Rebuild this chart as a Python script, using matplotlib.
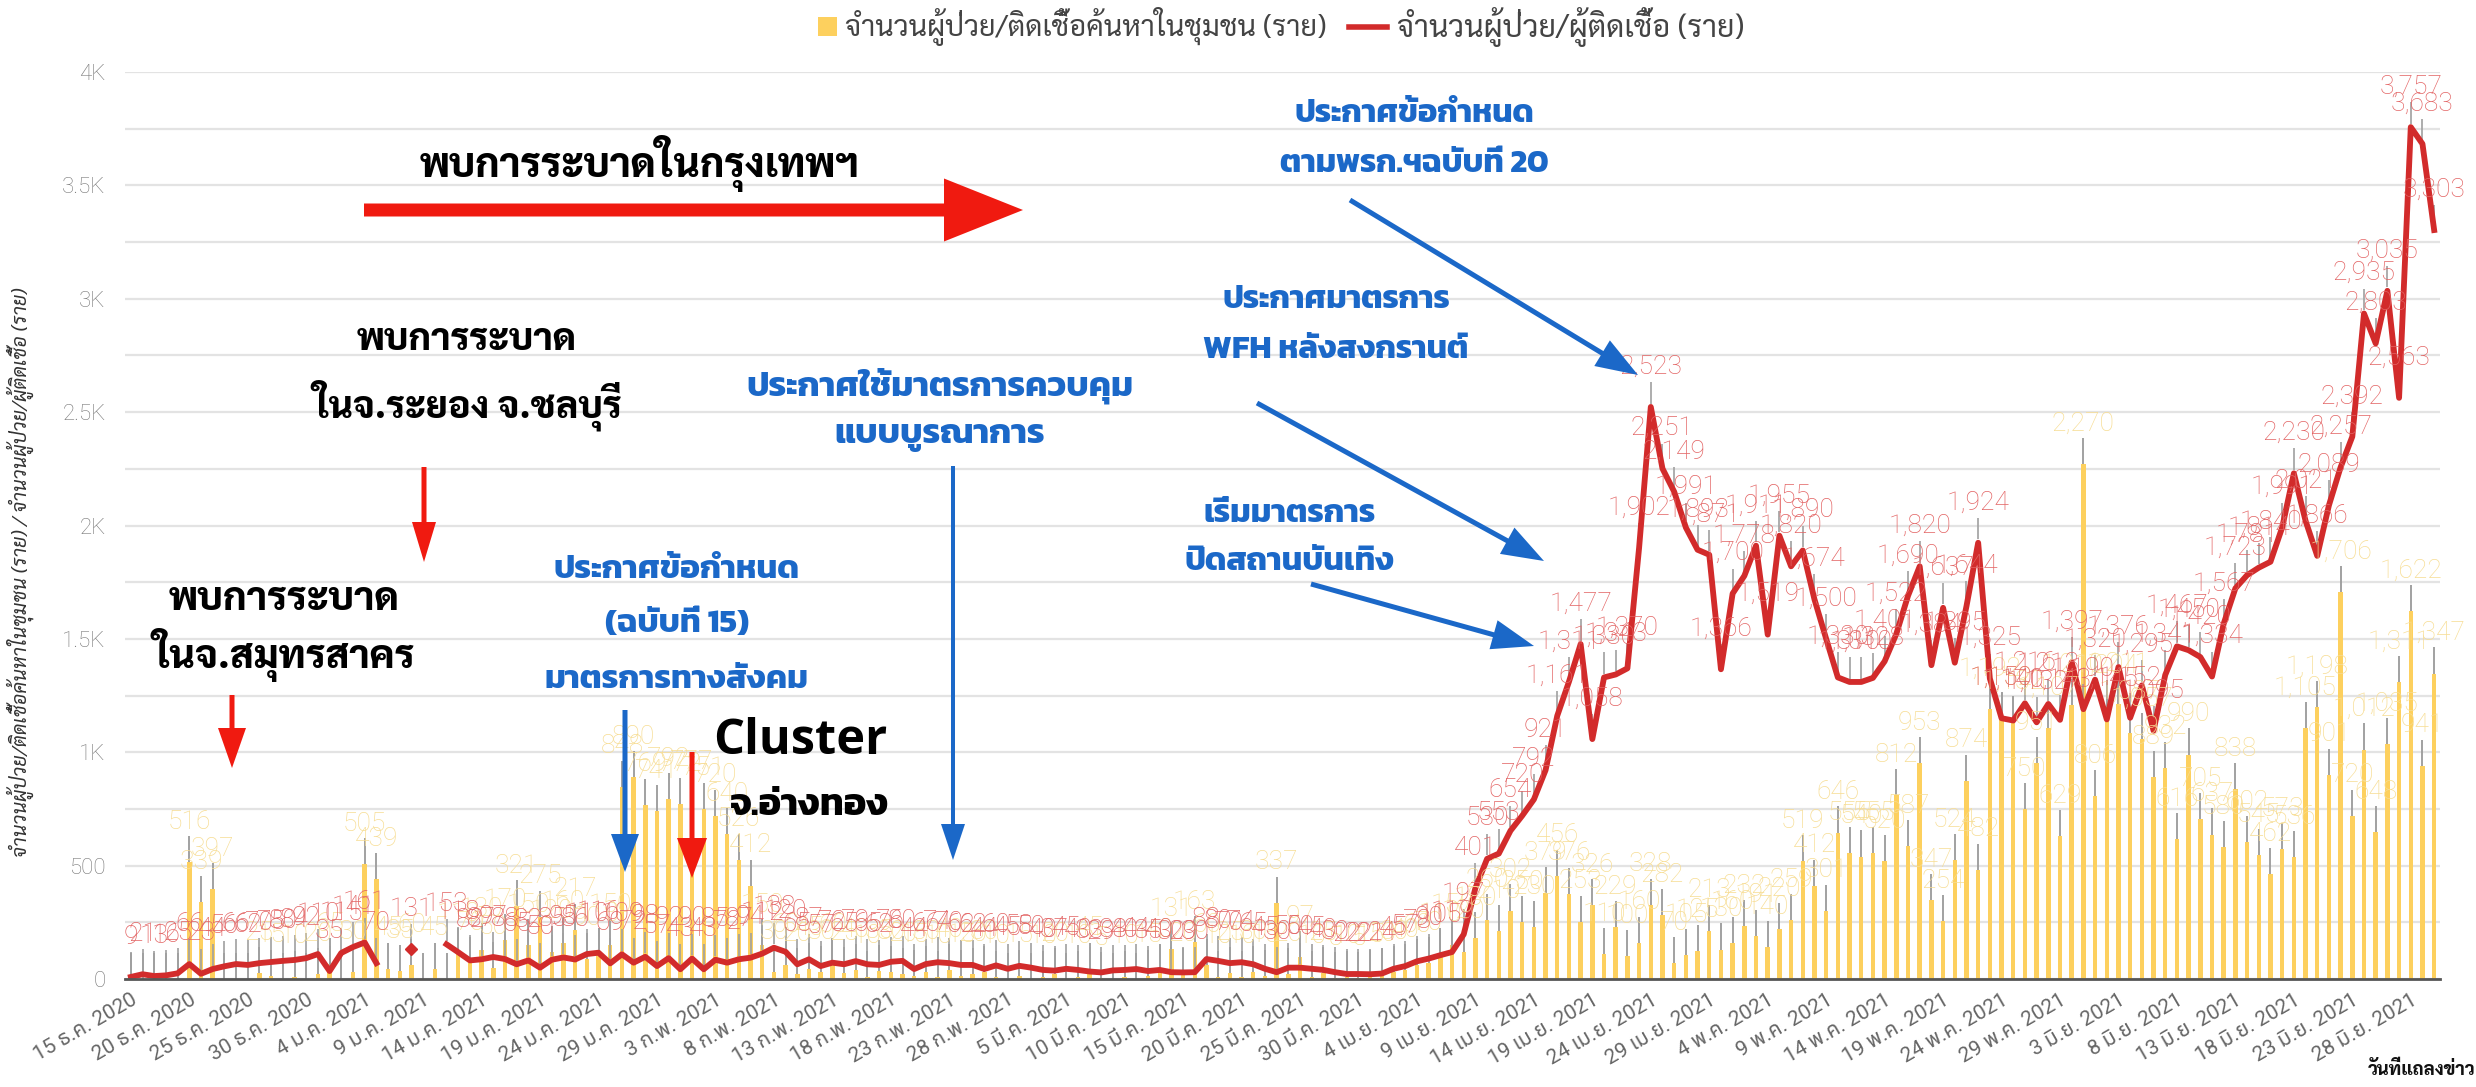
import numpy as np
import matplotlib
matplotlib.use("Agg")
import matplotlib.pyplot as plt
from matplotlib import font_manager
from matplotlib.ft2font import FT2Font
from matplotlib.patches import FancyArrow, Rectangle
from matplotlib.lines import Line2D
from matplotlib.ticker import MultipleLocator, FuncFormatter

nan = float("nan")

# daily values, 15 Dec 2020 .. 30 Jun 2021
community = [
    0, 0, 0, 0, 0, 516, 339, 397, 0, 0,
    0, 25, 15, 0, 10, 0, 20, 65, 0, 30,
    505, 439, 45, 35, 60, 0, 45, 0, 110, 70,
    130, 50, 170, 321, 150, 275, 120, 160, 217, 90,
    110, 150, 848, 890, 769, 741, 792, 772, 777, 751,
    720, 640, 526, 412, 150, 30, 60, 20, 45, 30,
    60, 25, 40, 10, 35, 30, 20, 15, 30, 10,
    40, 15, 20, 30, 10, 0, 15, 0, 10, 20,
    0, 10, 45, 5, 0, 10, 0, 15, 40, 131,
    20, 163, 60, 10, 25, 10, 30, 15, 337, 20,
    97, 10, 25, 5, 10, 5, 15, 20, 30, 40,
    60, 70, 110, 150, 120, 180, 260, 210, 302, 250,
    230, 379, 456, 376, 253, 326, 110, 229, 100, 160,
    328, 282, 70, 105, 125, 213, 130, 160, 232, 191,
    140, 220, 259, 519, 412, 301, 646, 555, 540, 555,
    520, 812, 587, 953, 347, 254, 524, 874, 482, 1192,
    1152, 1132, 750, 951, 1107, 629, 1210, 2270, 806, 1204,
    1211, 1087, 1057, 889, 932, 616, 990, 705, 637, 580,
    838, 602, 545, 462, 573, 536, 1105, 1198, 901, 1706,
    720, 1012, 648, 1035, 1311, 1622, 941, 1347,
]

cases = [
    9, 21, 13, 16, 25, 66, 23, 44, 56, 66,
    62, 70, 75, 80, 84, 92, 110, 35, 115, 141,
    161, 70, nan, nan, 131, nan, nan, 153, 118, 82,
    87, 97, 88, 65, 82, 50, 85, 95, 86, 110,
    116, 69, 109, 72, 98, 57, 92, 43, 90, 43,
    85, 72, 87, 94, 112, 138, 120, 65, 87, 57,
    72, 65, 79, 65, 62, 76, 80, 44, 66, 74,
    70, 62, 62, 44, 60, 45, 58, 50, 40, 37,
    45, 40, 33, 29, 38, 40, 44, 35, 40, 30,
    29, 30, 88, 80, 70, 74, 65, 45, 30, 50,
    50, 45, 40, 30, 22, 22, 21, 24, 45, 57,
    78, 90, 105, 119, 197, 401, 530, 553, 654, 720,
    792, 921, 1161, 1311, 1477, 1058, 1330, 1343, 1370, 1902,
    2523, 2251, 2149, 1991, 1893, 1871, 1366, 1700, 1778, 1911,
    1519, 1955, 1820, 1890, 1674, 1500, 1330, 1310, 1310, 1328,
    1401, 1522, 1690, 1820, 1384, 1637, 1395, 1644, 1924, 1325,
    1150, 1140, 1216, 1132, 1213, 1143, 1397, 1190, 1320, 1145,
    1376, 1152, 1295, 1095, 1341, 1467, 1450, 1420, 1334, 1567,
    1723, 1781, 1814, 1840, 1991, 2230, 2021, 1866, 2089, 2257,
    2392, 2935, 2803, 3035, 2563, 3757, 3683, 3303,
]

tick_labels = [
    "15 ธ.ค. 2020", "20 ธ.ค. 2020", "25 ธ.ค. 2020", "30 ธ.ค. 2020",
    "4 ม.ค. 2021", "9 ม.ค. 2021", "14 ม.ค. 2021", "19 ม.ค. 2021", "24 ม.ค. 2021", "29 ม.ค. 2021",
    "3 ก.พ. 2021", "8 ก.พ. 2021", "13 ก.พ. 2021", "18 ก.พ. 2021", "23 ก.พ. 2021", "28 ก.พ. 2021",
    "5 มี.ค. 2021", "10 มี.ค. 2021", "15 มี.ค. 2021", "20 มี.ค. 2021", "25 มี.ค. 2021", "30 มี.ค. 2021",
    "4 เม.ย. 2021", "9 เม.ย. 2021", "14 เม.ย. 2021", "19 เม.ย. 2021", "24 เม.ย. 2021", "29 เม.ย. 2021",
    "4 พ.ค. 2021", "9 พ.ค. 2021", "14 พ.ค. 2021", "19 พ.ค. 2021", "24 พ.ค. 2021", "29 พ.ค. 2021",
    "3 มิ.ย. 2021", "8 มิ.ย. 2021", "13 มิ.ย. 2021", "18 มิ.ย. 2021", "23 มิ.ย. 2021", "28 มิ.ย. 2021",
]

legend_bar = "จำนวนผู้ป่วย/ติดเชื้อค้นหาในชุมชน (ราย)"
legend_line = "จำนวนผู้ป่วย/ผู้ติดเชื้อ (ราย)"
ylabel = "จำนวนผู้ป่วย/ติดเชื้อค้นหาในชุมชน (ราย) / จำนวนผู้ป่วย/ผู้ติดเชื้อ (ราย)"
xlabel = "วันที่แถลงข่าว"


def thai_fonts():
    found = {}
    for fe in font_manager.fontManager.ttflist:
        try:
            cmap = FT2Font(fe.fname).get_charmap()
        except Exception:
            continue
        if 0x0E01 in cmap:
            w = fe.weight if isinstance(fe.weight, int) else 400
            found.setdefault(fe.name, set()).add(w)
    return found


found = thai_fonts()


def pick(names, min_w=0):
    for n in names:
        if n in found and max(found[n]) >= min_w:
            return n
    return next(iter(found), "DejaVu Sans")


THAI = pick(["Noto Sans Thai", "Sarabun", "IBM Plex Sans Thai", "Anuphan"])
BOLD = pick(["Kanit", "Prompt", "Mitr", "IBM Plex Sans Thai", "Anuphan", "Noto Sans Thai"], 600)
HEAVY = pick(["Sarabun", "Krub", "Niramit", "Kanit"], 700)
SLIM = pick(["Sarabun", "Noto Sans Thai Looped", "IBM Plex Sans Thai Looped", "Noto Sans Thai"])

W, H = 2476, 1087
fig = plt.figure(figsize=(W / 100, H / 100), dpi=100)
L, R, B, T = 125, 2440, 979, 72
ax = fig.add_axes([L / W, 1 - B / H, (R - L) / W, (B - T) / H])

x = np.arange(len(cases))
yv = np.array(community, dtype=float)
rv = np.array(cases, dtype=float)

bar_c = "#fdd05e"
line_c = "#d22b2b"
ax.bar(x, yv, width=0.38, color=bar_c, zorder=2)
ax.vlines(x, yv, yv + 115, color="#9a9a9a", lw=1.3, zorder=3)
ok = ~np.isnan(rv)
ax.vlines(x[ok], rv[ok] + 15, rv[ok] + 110, color="#a0a0a0", lw=1.2, zorder=3)
ax.plot(x, rv, color=line_c, lw=4.2, zorder=4)
iso = [i for i in range(len(rv)) if ok[i]
       and (i == 0 or not ok[i - 1]) and (i == len(rv) - 1 or not ok[i + 1])]
ax.plot(x[iso], rv[iso], "D", color=line_c, ms=6, zorder=4)

lab_font = dict(fontfamily="Roboto", fontweight="light", fontsize=19)
for i in range(len(x)):
    if yv[i] > 0:
        ax.text(i, yv[i] + 125, f"{int(yv[i]):,}", ha="center", va="bottom",
                color="#f7dd94", zorder=5, **lab_font)
for i in range(len(x)):
    if ok[i]:
        ax.text(i, rv[i] + 125, f"{int(rv[i]):,}", ha="center", va="bottom",
                color="#e36464", zorder=6, **lab_font)

ax.set_xlim(-0.5, len(x) - 0.5)
ax.set_ylim(0, 4000)
ax.yaxis.set_major_locator(MultipleLocator(500))
ax.yaxis.set_minor_locator(MultipleLocator(250))
ax.yaxis.set_major_formatter(FuncFormatter(
    lambda v, p: "0" if v == 0 else (f"{v / 1000:g}K" if v >= 1000 else f"{int(v)}")))
ax.grid(axis="y", which="both", color="#e3e3e3", lw=1.6, zorder=0)
ax.set_axisbelow(True)
for s in ["top", "right", "left"]:
    ax.spines[s].set_visible(False)
ax.spines["bottom"].set_color("#555555")
ax.spines["bottom"].set_linewidth(2)
ax.spines["bottom"].set_zorder(7)
ax.tick_params(axis="y", which="both", length=0, pad=14, labelsize=16, labelcolor="#777777")
for t in ax.get_yticklabels():
    t.set_fontfamily("Roboto")
    t.set_fontweight("light")
ax.set_xticks(np.arange(0, len(x), 5))
ax.set_xticklabels(tick_labels, rotation=30, ha="right", rotation_mode="anchor",
                   fontsize=15, color="#666666", family=["Roboto", THAI, "DejaVu Sans"])
ax.tick_params(axis="x", length=0, pad=8)

# overlay in pixel coordinates for annotations
ov = fig.add_axes([0, 0, 1, 1])
ov.set_xlim(0, W)
ov.set_ylim(H, 0)
ov.axis("off")
ov.patch.set_alpha(0)
ov.set_zorder(10)
renderer = fig.canvas.get_renderer()


def block(lines, cx, ys, width, color="black", family=None, weight="bold", rot=0, **kw):
    # one font size for the whole block, set so the widest line has the given width
    fam = [family or BOLD, "DejaVu Sans"]
    ts = [ov.text(cx, y, s, ha="center", va="center", color=color, fontweight=weight,
                  family=fam, rotation=rot, fontsize=20, **kw) for s, y in zip(lines, ys)]
    ext = [t.get_window_extent(renderer) for t in ts]
    size = max((e.height if rot else e.width) for e in ext)
    for t in ts:
        t.set_fontsize(20 * width / size)
    return ts


def arrow(x0, y0, x1, y1, color, shaft, hw, hl):
    ov.add_patch(FancyArrow(x0, y0, x1 - x0, y1 - y0, width=shaft, head_width=hw,
                            head_length=hl, length_includes_head=True, color=color, lw=0))


red = "#f01a10"
blue = "#1b68c8"

block(["พบการระบาดในกรุงเทพฯ"], 640, [163], 440, family=HEAVY, weight=800)
arrow(364, 210, 1023, 210, red, 13, 63, 79)

block(["พบการระบาด", "ในจ.ระยอง จ.ชลบุรี"], 467, [340, 405], 310, family=HEAVY, weight=800)
arrow(424, 467, 424, 562, red, 5, 24, 40)

block(["พบการระบาด", "ในจ.สมุทรสาคร"], 284, [600, 655], 262, family=HEAVY, weight=800)
arrow(232, 695, 232, 768, red, 5, 28, 40)

block(["ประกาศข้อกำหนด", "(ฉบับที่ 15)", "มาตรการทางสังคม"], 677, [570, 624, 680], 263, color=blue)
arrow(625, 710, 625, 872, blue, 5, 28, 38)

block(["Cluster"], 800, [742], 174, family="Open Sans")
block(["จ.อ่างทอง"], 810, [806], 160, family=BOLD)
arrow(692, 752, 692, 878, red, 5, 30, 40)

block(["ประกาศใช้มาตรการควบคุม", "แบบบูรณาการ"], 940, [386, 437], 388, color=blue)
arrow(953, 466, 953, 860, blue, 4, 24, 36)

block(["ประกาศข้อกำหนด", "ตามพรก.ฯฉบับที่ 20"], 1414, [114, 165], 269, color=blue)
arrow(1350, 200, 1638, 375, blue, 5, 30, 42)

block(["ประกาศมาตรการ", "WFH หลังสงกรานต์"], 1336, [301, 351], 266, color=blue)
arrow(1257, 403, 1544, 561, blue, 5, 30, 42)

block(["เริ่มมาตรการ", "ปิดสถานบันเทิง"], 1290, [514, 562], 210, color=blue)
arrow(1311, 584, 1534, 646, blue, 5, 30, 42)

# legend
ov.add_patch(Rectangle((818, 17), 19, 19, color=bar_c, lw=0))
block([legend_bar], 1086, [27], 480, color="#444444", family=SLIM, weight="normal")
ov.add_line(Line2D([1349, 1387], [27, 27], color=line_c, lw=4))
block([legend_line], 1571, [27], 347, color="#444444", family=SLIM, weight="normal")

block([ylabel], 20, [572], 570, color="#333333", family=SLIM, weight="normal", rot=90, style="italic")
block([xlabel], 2422, [1070], 108, color="#111111", family=HEAVY, weight=800)

fig.savefig("out.png", dpi=100, facecolor="white")
